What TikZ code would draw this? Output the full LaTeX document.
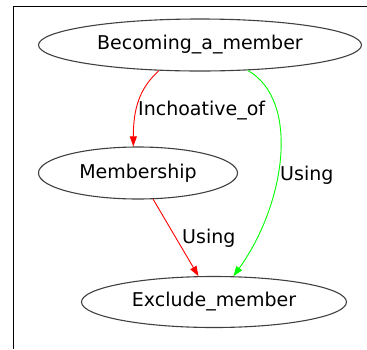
\documentclass[tikz,border=0pt]{standalone}
\usepackage{fontspec}
\setmainfont{DejaVu Sans}
\usetikzlibrary{shapes.geometric,arrows.meta}

\tikzset{
    frame/.style={ellipse,draw=black!75,line width=1.1pt,inner sep=0pt,
        font=\fontsize{19}{22}\selectfont},
    lbl/.style={inner sep=0pt,anchor=base west,font=\fontsize{19}{22}\selectfont},
    redarc/.style={draw=red,line width=0.9pt,-{Triangle[length=10pt,width=7pt]},red},
    greenarc/.style={draw=green,line width=0.9pt,-{Triangle[length=10pt,width=7pt]},green}
}

\begin{document}
\begin{tikzpicture}[x=1pt,y=-1pt]
    \useasboundingbox (0,0) rectangle (367,349);
    \draw[line width=1pt] (367,6.5) -- (13,6.5) -- (13,349);

    \node[frame,minimum width=323pt,minimum height=52pt] (become) at (200,45) {Becoming\_a\_member};
    \node[frame,minimum width=199pt,minimum height=52pt] (member) at (138,173) {Membership};
    \node[frame,minimum width=265pt,minimum height=51pt] (exclude) at (214,302) {Exclude\_member};

    \draw[redarc] (become.212) .. controls +(-20,18) and +(0,-37) .. (member.100);
    \draw[greenarc] (become.332) .. controls +(53,30) and +(52,-72) .. (exclude.53);
    \draw[redarc] (member.300) -- (exclude.121);

    \node[lbl] (inch) at (138,115) {Inchoative\_of};
    \node[lbl] (use1) at (280,180) {Using};
    \node[lbl] (use2) at (182,243) {Using};
\end{tikzpicture}
\end{document}
